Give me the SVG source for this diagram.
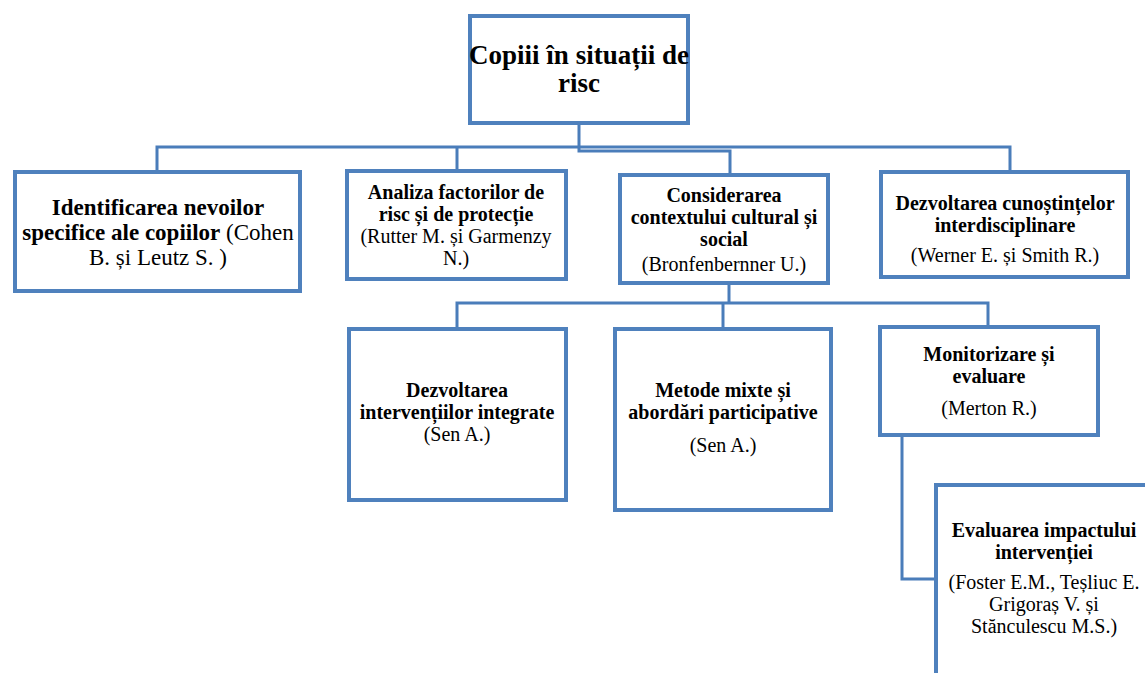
<svg xmlns="http://www.w3.org/2000/svg" width="1145" height="673" viewBox="0 0 1145 673">
<style>
.box{fill:#ffffff;stroke:#4f81bd;stroke-width:4}
.con{fill:none;stroke:#4a7dba;stroke-width:3}
text{font-family:"Liberation Serif","Times New Roman",serif;fill:#000;text-anchor:middle}
.b{font-weight:bold}
.t{font-size:27px;font-weight:bold}
.m{font-size:20px}
.l{font-size:23px}
</style>
<rect width="1145" height="673" fill="#ffffff"/>
<g id="connectors">
<path class="con" d="M579 123 V151 H730 V173"/>
<path class="con" d="M157 170 V147 H1010 V170"/>
<path class="con" d="M457 147 V170"/>
<path class="con" d="M729 285 V303"/>
<path class="con" d="M457 327 V303 H988 V325"/>
<path class="con" d="M723 303 V327"/>
<path class="con" d="M902 437 V579 H934"/>
</g>
<g id="n-root">
<rect class="box" x="470" y="16" width="218" height="107"/>
<text class="t" x="579" y="64">Copiii în situații de</text>
<text class="t" x="579" y="92">risc</text>
</g>
<g id="n-identificarea">
<rect class="box" x="15" y="172" width="285" height="119"/>
<text class="l" x="158" y="215"><tspan class="b">Identificarea nevoilor</tspan></text>
<text class="l" x="158" y="240"><tspan class="b">specifice ale copiilor</tspan> (Cohen</text>
<text class="l" x="158" y="265">B. și Leutz S. )</text>
</g>
<g id="n-analiza">
<rect class="box" x="347" y="171" width="219" height="108"/>
<text class="m b" x="456" y="199">Analiza factorilor de</text>
<text class="m b" x="456" y="221">risc și de protecție</text>
<text class="m" x="456" y="243">(Rutter M.  și Garmenzy</text>
<text class="m" x="456" y="265">N.)</text>
</g>
<g id="n-considerarea">
<rect class="box" x="620" y="175" width="208" height="108"/>
<text class="m b" x="724" y="202">Considerarea</text>
<text class="m b" x="724" y="224">contextului cultural și</text>
<text class="m b" x="724" y="246">social</text>
<text class="m" x="724" y="271">(Bronfenbernner U.)</text>
</g>
<g id="n-cunostinte">
<rect class="box" x="881" y="172" width="247" height="105"/>
<text class="m b" x="1005" y="210">Dezvoltarea cunoștințelor</text>
<text class="m b" x="1005" y="232">interdisciplinare</text>
<text class="m" x="1005" y="262">(Werner E. și  Smith R.)</text>
</g>
<g id="n-interventii">
<rect class="box" x="349" y="329" width="217" height="171"/>
<text class="m b" x="457" y="397">Dezvoltarea</text>
<text class="m b" x="457" y="419">intervențiilor integrate</text>
<text class="m" x="457" y="441">(Sen A.)</text>
</g>
<g id="n-metode">
<rect class="box" x="615" y="329" width="216" height="181"/>
<text class="m b" x="723" y="397">Metode mixte și</text>
<text class="m b" x="723" y="419">abordări participative</text>
<text class="m" x="723" y="452">(Sen A.)</text>
</g>
<g id="n-monitorizare">
<rect class="box" x="880" y="327" width="218" height="108"/>
<text class="m b" x="989" y="361">Monitorizare și</text>
<text class="m b" x="989" y="383">evaluare</text>
<text class="m" x="989" y="415">(Merton R.)</text>
</g>
<g id="n-evaluarea">
<rect class="box" x="936" y="485" width="260" height="240"/>
<text class="m b" x="1044" y="537">Evaluarea impactului</text>
<text class="m b" x="1044" y="559">intervenției</text>
<text class="m" x="1044" y="589">(Foster E.M., Teșliuc E.</text>
<text class="m" x="1044" y="611">Grigoraș V. și</text>
<text class="m" x="1044" y="633">Stănculescu M.S.)</text>
</g>
</svg>
